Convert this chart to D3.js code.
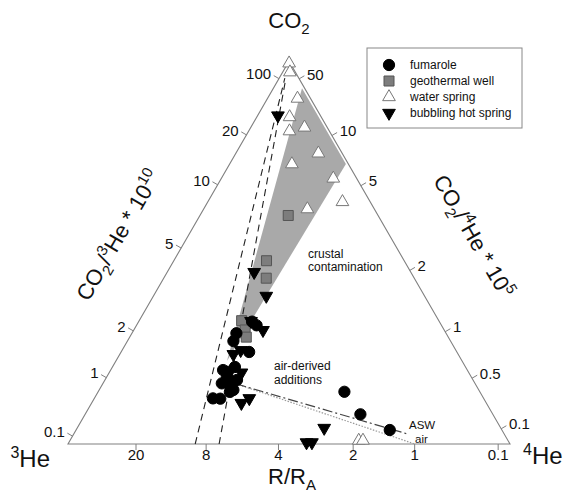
<!DOCTYPE html>
<html>
<head>
<meta charset="utf-8">
<script src="https://cdn.jsdelivr.net/npm/d3@7"></script>
<style>
  body { margin: 0; background: #fff; }
  text { font-family: "Liberation Sans", Arial, sans-serif; fill: #111; }
</style>
</head>
<body>
<div id="chart"></div>
<script>
// samples as [R/RA, CO2/4He * 10^5]
const fumarole = [
  [6.0, 3.0], [5.6, 2.75], [7.3, 2.95], [7.45, 2.7], [5.9, 2.0],
  [7.9, 1.83], [7.4, 1.56], [7.75, 1.42], [7.0, 1.28], [6.65, 1.12],
  [6.5, 1.35], [8.3, 1.07], [7.6, 1.0], [7.4, 1.7], [6.9, 1.1],
  [6.85, 1.75], [7.2, 1.45],
  [2.0, 0.59], [1.75, 0.30], [1.3, 0.124]
];
const geothermalWell = [
  [3.7, 7.2], [5.4, 5.5], [5.25, 4.5], [7.0, 3.35], [6.5, 2.85], [6.3, 2.55]
];
const waterSpring = [
  [3.0, 800], [2.7, 142], [1.58, 32], [3.5, 27.7], [1.54, 16.4], [3.55, 21.3],
  [1.05, 9.8], [3.3, 12.5], [0.76, 6.6], [0.75, 5.0], [2.35, 6.3],
  [1.88, 0.033], [1.8, 0.033]
];
const bubblingSpring = [
  [7.6, 45], [6.55, 5.5], [5.1, 3.65], [5.1, 2.45], [6.1, 3.05], [7.2, 2.2],
  [6.6, 2.2], [6.25, 1.5], [5.5, 0.82], [5.95, 0.76], [2.6, 0.18],
  [3.1, 0.018], [2.95, 0.018]
];
const crustalField = [[7.7, 2.08], [0.33, 34.6], [0.077, 6.7]];
const mantleEnd = [6.5, 1.25];
const aswEnd = [1.05, 0.083];
const airEnd = [1.0, 0.0007];
const morbBounds = [7, 9];
const morbTop = [150, 180];

const raTicks = [20, 8, 4, 2, 1, 0.1];
const co2He3Ticks = [0.1, 1, 2, 5, 10, 20, 100];
const co2He4Ticks = [0.1, 0.5, 1, 2, 5, 10, 50];
const legendItems = ['fumarole', 'geothermal well', 'water spring', 'bubbling hot spring'];

const RA = 1.39e-6;
const W3 = 0.275 / RA;   // weight on 3He (4He weight = 1)
const WC = 0.415e-5;     // weight on CO2

const width = 570, height = 502;
const svg = d3.select('#chart').append('svg')
  .attr('width', width).attr('height', height);

const x = d3.scaleLinear().domain([0, 1]).range([68, 510]);
const y = d3.scaleLinear().domain([0, 1]).range([444, 61.2]);

function proj(he3, he4, co2) {
  const s = he3 + he4 + co2;
  const b = he4 / s, c = co2 / s;
  return [x(b + c / 2), y(c)];
}
const sample = ([ra, co2he4]) => proj(W3 * ra * RA, 1, WC * co2he4 * 1e5);

const grey = '#808080';

// crustal contamination field
svg.append('path')
  .attr('d', d3.line()(crustalField.map(sample)) + 'Z')
  .attr('fill', '#a9a9a9');

// triangle frame
const corners = [proj(1, 0, 0), proj(0, 1, 0), proj(0, 0, 1)];
svg.append('path')
  .attr('d', d3.line()(corners) + 'Z')
  .attr('fill', 'none').attr('stroke', grey).attr('stroke-width', 1.1);

// ticks
const tickLen = 6;
function drawTicks(vals, pos, nx, ny, anchor, fmt) {
  const g = svg.append('g');
  vals.forEach(v => {
    const [px, py] = pos(v);
    g.append('line')
      .attr('x1', px).attr('y1', py)
      .attr('x2', px + nx * tickLen).attr('y2', py + ny * tickLen)
      .attr('stroke', grey);
    const t = g.append('text').attr('font-size', 15).attr('text-anchor', anchor).text(fmt(v));
    if (anchor === 'middle') {
      t.attr('x', px).attr('y', py + 16);
    } else {
      t.attr('x', px + nx * (tickLen + 3)).attr('y', py + ny * (tickLen + 3)).attr('dy', '0.35em');
    }
  });
}
const fmt = d3.format('~g');
drawTicks(raTicks, v => proj(W3 * v * RA, 1, 0), 0, 1, 'middle', fmt);
drawTicks(co2He3Ticks, v => proj(W3, 0, WC * v * 1e10), -0.866, -0.5, 'end', fmt);
drawTicks(co2He4Ticks, v => proj(0, 1, WC * v * 1e5), 0.866, -0.5, 'start', fmt);

// MORB R/RA band
morbBounds.forEach((ra, i) => {
  svg.append('path')
    .attr('d', d3.line()([sample([ra, 0]), sample([ra, morbTop[i]])]))
    .attr('stroke', '#222').attr('stroke-width', 1.1)
    .attr('stroke-dasharray', '7,5').attr('fill', 'none');
});

// air / ASW mixing
svg.append('path')
  .attr('d', d3.line()([sample(mantleEnd), sample(airEnd)]))
  .attr('stroke', '#9a9a9a').attr('stroke-width', 1.2)
  .attr('stroke-dasharray', '1.5,1.5').attr('fill', 'none');
svg.append('path')
  .attr('d', d3.line()([sample(mantleEnd), sample(aswEnd)]))
  .attr('stroke', '#444').attr('stroke-width', 1.2)
  .attr('stroke-dasharray', '10,3,2,3').attr('fill', 'none');

// markers
const styles = [
  { data: geothermalWell, type: d3.symbolSquare, size: 100, fill: '#7d7d7d', stroke: '#555', rot: 0 },
  { data: fumarole, type: d3.symbolCircle, size: 100, fill: '#000', stroke: '#000', rot: 0 },
  { data: waterSpring, type: d3.symbolTriangle, size: 70, fill: '#fff', stroke: '#777', rot: 0 },
  { data: bubblingSpring, type: d3.symbolTriangle, size: 70, fill: '#000', stroke: '#000', rot: 180 }
];
const legendOrder = [1, 0, 2, 3];

styles.forEach(s => {
  svg.append('g').selectAll('path')
    .data(s.data)
    .enter().append('path')
    .attr('d', d3.symbol().type(s.type).size(s.size))
    .attr('transform', d => {
      const [px, py] = sample(d);
      return `translate(${px},${py}) rotate(${s.rot})`;
    })
    .attr('fill', s.fill).attr('stroke', s.stroke).attr('stroke-width', 1);
});

// annotations
const note = (tx, ty, str, fs) => svg.append('text').attr('x', tx).attr('y', ty)
  .attr('font-size', fs || 12).text(str);
note(308, 258, 'crustal');
note(308, 271, 'contamination');
note(274, 370, 'air-derived');
note(274, 384, 'additions');
note(409, 429, 'ASW', 11.5);
note(415, 443, 'air', 11.5);

// axis titles
const title = svg.append('g').attr('font-size', 22);
const co2 = title.append('text').attr('x', 289).attr('y', 28).attr('text-anchor', 'middle');
co2.append('tspan').text('CO');
co2.append('tspan').attr('font-size', 15).attr('dy', 6).text('2');

const he3 = title.append('text').attr('x', 50).attr('y', 467).attr('text-anchor', 'end').attr('font-size', 24);
he3.append('tspan').attr('font-size', 16).attr('dy', -9).text('3');
he3.append('tspan').attr('dy', 9).text('He');

const he4 = title.append('text').attr('x', 523).attr('y', 464).attr('font-size', 24);
he4.append('tspan').attr('font-size', 16).attr('dy', -9).text('4');
he4.append('tspan').attr('dy', 9).text('He');

const rra = title.append('text').attr('x', 292).attr('y', 484).attr('text-anchor', 'middle');
rra.append('tspan').text('R/R');
rra.append('tspan').attr('font-size', 15).attr('dy', 6).text('A');

function ratioTitle(cx, cy, angle, iso, exp) {
  const t = title.append('text')
    .attr('transform', `translate(${cx},${cy}) rotate(${angle})`)
    .attr('text-anchor', 'middle').attr('y', 8);
  t.append('tspan').text('CO');
  t.append('tspan').attr('font-size', 15).attr('dy', 6).text('2');
  t.append('tspan').attr('dy', -6).text('/');
  t.append('tspan').attr('font-size', 15).attr('dy', -9).text(iso);
  t.append('tspan').attr('dy', 9).text('He * 10');
  t.append('tspan').attr('font-size', 15).attr('dy', -9).text(exp);
}
ratioTitle(118, 235, -60, '3', '10');
ratioTitle(474, 236, 60, '4', '5');

// legend
const legend = svg.append('g');
legend.append('rect')
  .attr('x', 367).attr('y', 48).attr('width', 155).attr('height', 80)
  .attr('fill', '#fff').attr('stroke', '#888');
legendItems.forEach((name, i) => {
  const s = styles[legendOrder[i]];
  const ly = 65 + i * 16;
  legend.append('path')
    .attr('d', d3.symbol().type(s.type).size(s.size))
    .attr('transform', `translate(389,${ly}) rotate(${s.rot})`)
    .attr('fill', s.fill).attr('stroke', s.stroke);
  legend.append('text').attr('x', 410).attr('y', ly).attr('dy', '0.35em')
    .attr('font-size', 12).text(name);
});
</script>
</body>
</html>
